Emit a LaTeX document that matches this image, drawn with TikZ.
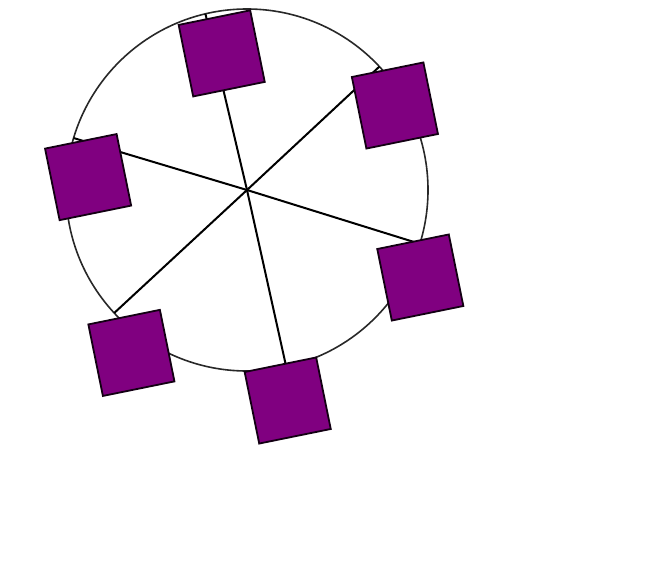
\documentclass[tikz,border=0pt]{standalone}
\definecolor{cabinfill}{RGB}{128,0,128}
\definecolor{rimcol}{RGB}{40,40,40}
\begin{document}
\begin{tikzpicture}[x=1pt,y=-1pt,
  rim/.style={draw=rimcol,line width=1.6pt},
  spoke/.style={draw=black,line width=2pt},
  cabin/.style={draw=black!85!cabinfill,fill=cabinfill,line width=1.8pt,minimum size=73pt,inner sep=0pt,rotate=11.5}]
\useasboundingbox (0,0) rectangle (652,583);
\coordinate (c) at (247,190);
\draw[rim] (c) circle[radius=181];
\coordinate (p1) at (205.4,13.8);
\coordinate (p2) at (379.4,66.6);
\coordinate (p3) at (419.8,243.8);
\coordinate (p4) at (286.2,366.7);
\coordinate (p5) at (114.2,313);
\coordinate (p6) at (73.5,138);
\foreach \p in {p1,p2,p3,p4,p5,p6} \draw[spoke] (c) -- (\p);
\node[cabin] (s1) at (221.7,53.4) {};
\node[cabin] (s2) at (394.9,105.5) {};
\node[cabin] (s3) at (420.3,277.5) {};
\node[cabin] (s4) at (287.7,400.5) {};
\node[cabin] (s5) at (131.4,352.9) {};
\node[cabin] (s6) at (88.1,177.1) {};
\end{tikzpicture}
\end{document}
